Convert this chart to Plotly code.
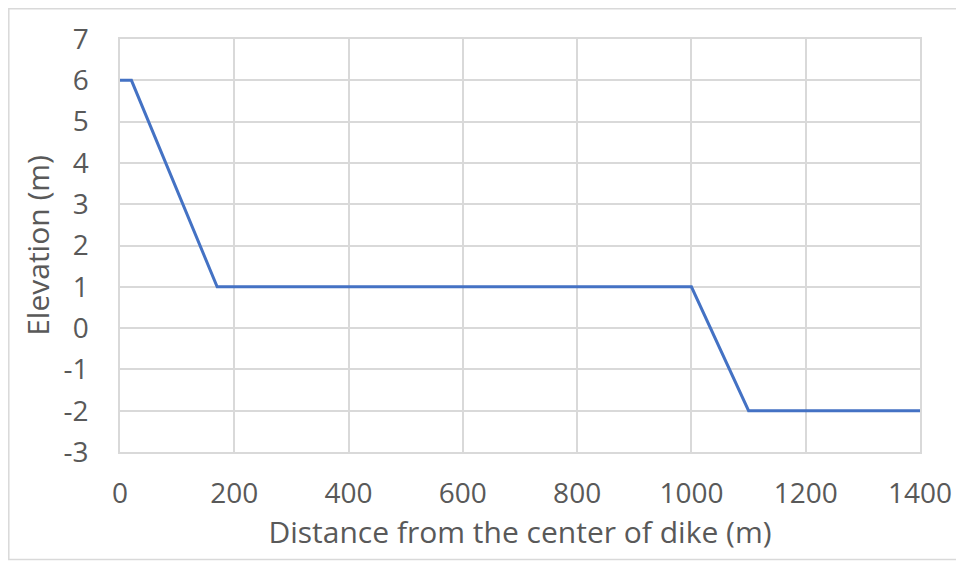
import plotly.graph_objects as go

distance_m = [0, 20, 170, 1000, 1100, 1400]
elevation_m = [6, 6, 1, 1, -2, -2]

x_ticks = [0, 200, 400, 600, 800, 1000, 1200, 1400]
y_ticks = [-3, -2, -1, 0, 1, 2, 3, 4, 5, 6, 7]
y_tick_labels = ["-3", "-2", "-1", "0", "1", "2", "3", "4", "5", "6", "7"]

FONT = "Open Sans"
TXT = "#595959"
GRID = "#d9d9d9"

# page body has an 8px default margin; compensate
OFF = 8
W, H = 964 - OFF, 561 - OFF
L, R, T, B = 120 - OFF, 44, 39 - OFF, 109
PW, PH = W - L - R, H - T - B

def px_x(page_x):
    return (page_x - OFF - L) / PW

def px_y(page_y):
    return (H - B - (page_y - OFF)) / PH

fig = go.Figure()
fig.add_trace(go.Scatter(
    x=distance_m, y=elevation_m, mode="lines",
    line=dict(color="#4472C4", width=3),
    hoverinfo="x+y", showlegend=False,
))

fig.update_layout(
    width=W, height=H,
    margin=dict(l=L, r=R, t=T, b=B),
    paper_bgcolor="white", plot_bgcolor="white",
    font=dict(family=FONT, color=TXT, size=28),
    xaxis=dict(
        range=[0, 1400], tickvals=x_ticks, showgrid=True, gridcolor=GRID, gridwidth=1.5,
        zeroline=False, showline=True, linecolor=GRID, linewidth=1.5, mirror=True,
        ticks="", ticklabelstandoff=16, tickfont=dict(size=28, color=TXT),
        title=dict(text="Distance from the center of dike (m)", font=dict(size=30, color=TXT), standoff=0),
    ),
    yaxis=dict(
        range=[-3, 7], tickvals=y_ticks, ticktext=y_tick_labels, showgrid=True, gridcolor=GRID, gridwidth=1.5,
        zeroline=False, showline=True, linecolor=GRID, linewidth=1.5, mirror=True,
        ticks="", ticklabelstandoff=24, tickfont=dict(size=28, color=TXT),
        title=dict(text="Elevation (m)", font=dict(size=30, color=TXT), standoff=5),
    ),
    shapes=[dict(
        type="rect", xref="paper", yref="paper",
        x0=px_x(8.8), x1=px_x(980),
        y0=px_y(559.5), y1=px_y(8.8),
        line=dict(color="#d9d9d9", width=1.5), fillcolor="rgba(0,0,0,0)", layer="below",
    )],
)

fig.write_html("out.html")
